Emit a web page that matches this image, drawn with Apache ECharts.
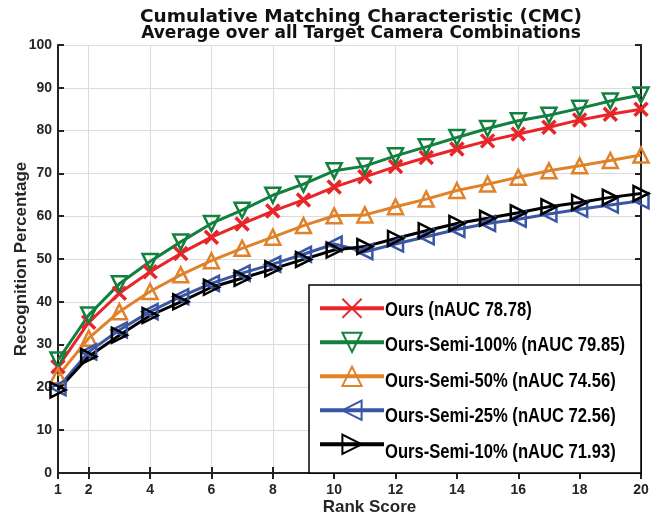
<!DOCTYPE html>
<html><head><meta charset="utf-8">
<script src="https://cdn.jsdelivr.net/npm/echarts@6/dist/echarts.min.js"></script>
<style>html,body{margin:0;padding:0;background:#fff}#c{width:671px;height:516px}</style>
</head><body><div id="c"></div>
<script>
var ranks = [1,2,3,4,5,6,7,8,9,10,11,12,13,14,15,16,17,18,19,20];
var xTicks = [1,2,4,6,8,10,12,14,16,18,20];
var seriesNames = ['Ours (nAUC 78.78)','Ours-Semi-100% (nAUC 79.85)','Ours-Semi-50% (nAUC 74.56)','Ours-Semi-25% (nAUC 72.56)','Ours-Semi-10% (nAUC 71.93)'];
var ours      = [24.8,35.2,42.0,47.0,51.3,55.1,58.2,61.2,63.8,66.8,69.2,71.6,73.7,75.7,77.6,79.2,80.8,82.5,83.8,85.0];
var semi100   = [26.4,36.9,44.2,49.4,54.0,58.3,61.4,64.9,67.5,70.6,71.7,74.1,76.2,78.4,80.5,82.3,83.6,85.2,86.9,88.3];
var semi50    = [22.7,31.5,37.7,42.4,46.3,49.6,52.5,55.1,57.8,60.1,60.3,62.2,64.0,66.0,67.5,69.1,70.6,71.8,73.0,74.3];
var semi25    = [19.9,28.3,33.4,37.7,41.2,44.3,46.7,48.8,51.1,53.5,51.7,53.5,55.2,56.9,58.3,59.3,60.5,61.6,62.6,63.6];
var semi10    = [19.4,27.2,32.2,36.8,40.0,43.4,45.5,47.7,49.9,52.1,52.9,54.8,56.6,58.3,59.5,60.8,62.2,63.2,64.4,65.3];
var colors = ['#e8262a','#12803f','#e0822a','#3a56a5','#000000'];
var allData = [ours, semi100, semi50, semi25, semi10];
var symbols = ['path://M0,0L10,10M10,0L0,10','triangle','triangle','triangle','triangle'];
var rotates = [0,180,0,90,-90];

function pairs(v){ return ranks.map(function(r,i){ return [r, v[i]]; }); }

var series = allData.map(function(d,i){
  return {
    name: seriesNames[i], type: 'line', data: pairs(d),
    symbol: symbols[i], symbolRotate: rotates[i], symbolSize: i===0?13:15, symbolKeepAspect: true,
    lineStyle: {color: colors[i], width: 3},
    itemStyle: {color: 'rgba(255,255,255,0)', borderColor: colors[i], borderWidth: i===0?3.5:2.5},
    emphasis: {disabled: true}, animation: false
  };
});

// legend box and condensed legend text
var legX = 309, legY = 285, legW = 332, legH = 188;
var legRowH = 24, legGap = 11.4, legTop = 308.3 - legRowH/2;
var graphics = [{
  type: 'rect', z: 3, silent: true,
  shape: {x: legX, y: legY, width: legW, height: legH},
  style: {fill: '#fff', stroke: '#000', lineWidth: 1.5}
}];
seriesNames.forEach(function(n, i){
  graphics.push({
    type: 'text', z: 5, silent: true,
    x: 385, y: legTop + legRowH/2 + i*(legRowH + legGap) + 2,
    scaleX: 0.81,
    style: {text: n, x: 0, y: 0, fill: '#000', font: 'bold 20.5px "Liberation Sans"', textVerticalAlign: 'middle', textAlign: 'left'}
  });
});

var chart = echarts.init(document.getElementById('c'), null, {renderer: 'canvas'});
var lblFont = {fontFamily: 'Liberation Sans', fontWeight: 'bold', fontSize: 14, color: '#262626'};
chart.setOption({
  animation: false,
  title: {
    text: 'Cumulative Matching Characteristic (CMC)',
    subtext: 'Average over all Target Camera Combinations',
    left: 356, top: 3, textAlign: 'center', itemGap: -2,
    textStyle: {fontFamily: 'DejaVu Sans', fontWeight: 'bold', fontSize: 18.5, color: '#111'},
    subtextStyle: {fontFamily: 'DejaVu Sans', fontWeight: 'bold', fontSize: 17, color: '#111'}
  },
  grid: {left: 58, right: 30, top: 45, bottom: 43, outerBoundsMode: 'none', containLabel: false},
  legend: {
    orient: 'vertical', left: 318, top: legTop, z: 4,
    itemWidth: 64, itemHeight: legRowH, itemGap: legGap,
    padding: 0, selectedMode: false,
    lineStyle: {width: 4},
    formatter: function(){ return ''; },
    textStyle: {fontSize: 1, color: 'rgba(0,0,0,0)'},
    data: seriesNames
  },
  graphic: graphics,
  xAxis: [{
    type: 'value', min: 1, max: 20,
    name: 'Rank Score', nameLocation: 'middle', nameGap: 26, nameMoveOverlap: false,
    nameTextStyle: {fontFamily: 'Liberation Sans', fontWeight: 'bold', fontSize: 17, color: '#262626', padding: [0,0,0,40]},
    axisLine: {show: true, lineStyle: {color: '#222', width: 2}},
    axisTick: {show: true, inside: true, length: 6, customValues: xTicks, lineStyle: {color: '#222', width: 2}},
    axisLabel: Object.assign({customValues: xTicks, margin: 10}, lblFont),
    splitLine: {show: true, lineStyle: {color: '#dcdcdc', width: 1}}
  },{
    type: 'value', min: 1, max: 20, position: 'top',
    axisLine: {show: true, lineStyle: {color: '#222', width: 2}},
    axisTick: {show: true, inside: true, length: 6, customValues: xTicks, lineStyle: {color: '#222', width: 2}},
    axisLabel: {show: false}, splitLine: {show: false}
  }],
  yAxis: [{
    type: 'value', min: 0, max: 100, interval: 10,
    name: 'Recognition Percentage', nameLocation: 'middle', nameGap: 28, nameRotate: 90, nameMoveOverlap: false,
    nameTextStyle: {fontFamily: 'Liberation Sans', fontWeight: 'bold', fontSize: 17, color: '#262626'},
    axisLine: {show: true, lineStyle: {color: '#222', width: 2}},
    axisTick: {show: true, inside: true, length: 6, lineStyle: {color: '#222', width: 2}},
    axisLabel: Object.assign({margin: 6}, lblFont),
    splitLine: {show: true, lineStyle: {color: '#dcdcdc', width: 1}}
  },{
    type: 'value', min: 0, max: 100, interval: 10, position: 'right',
    axisLine: {show: true, lineStyle: {color: '#222', width: 2}},
    axisTick: {show: true, inside: true, length: 6, lineStyle: {color: '#222', width: 2}},
    axisLabel: {show: false}, splitLine: {show: false}
  }],
  series: series
});
</script></body></html>
